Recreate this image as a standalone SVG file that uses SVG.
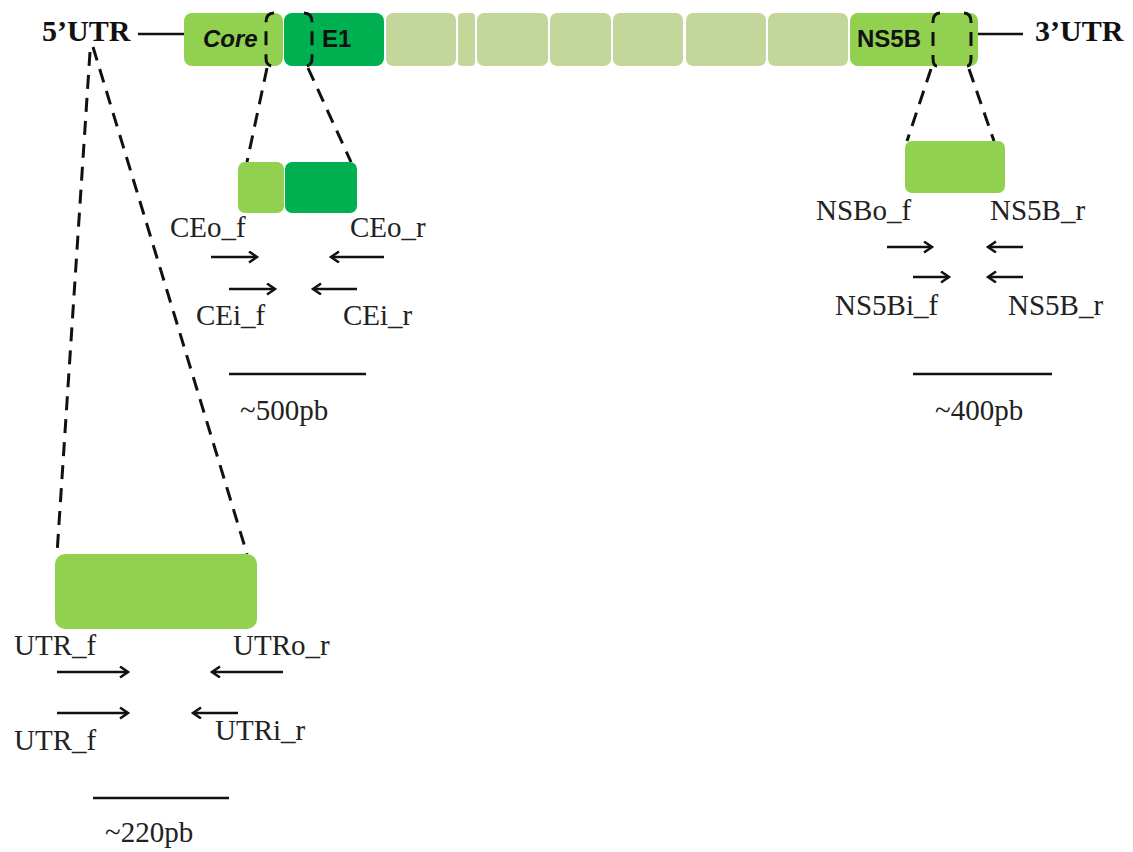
<svg xmlns="http://www.w3.org/2000/svg" width="1133" height="852" viewBox="0 0 1133 852">
  <style>
    .lbl { font-family: "Liberation Serif", "Times New Roman", serif; font-size: 29px; fill: #222; }
    .end { font-family: "Liberation Serif", "Times New Roman", serif; font-size: 30px; font-weight: bold; fill: #111; }
    .gene { font-family: "Liberation Sans", Arial, sans-serif; font-size: 24px; font-weight: bold; fill: #111; }
    .dash { fill: none; stroke: #111; stroke-width: 3; stroke-dasharray: 14 9; }
    .solid { stroke: #111; stroke-width: 2.5; }
    .primer { stroke: #111; stroke-width: 2.5; marker-end: url(#chev); }
    .lt { fill: #92D050; }
    .dk { fill: #00B050; }
    .pale { fill: #C4D79B; }
  </style>
  <defs>
    <marker id="chev" markerUnits="userSpaceOnUse" markerWidth="12" markerHeight="14" refX="9" refY="6" orient="auto">
      <path d="M1,0.5 L9,6 L1,11.5" fill="none" stroke="#111" stroke-width="2.5"/>
    </marker>
  </defs>

  <rect width="1133" height="852" fill="#fff"/>

  <!-- genome bar -->
  <g id="genome">
    <line class="solid" x1="138" y1="34" x2="184" y2="34"/>
    <line class="solid" x1="978" y1="34" x2="1023" y2="34"/>
    <rect class="lt" x="184" y="13" width="99" height="53" rx="8"/>
    <rect class="dk" x="284" y="13" width="100" height="53" rx="8"/>
    <rect class="pale" x="386" y="13" width="70" height="53" rx="7"/>
    <rect class="pale" x="458" y="13" width="17" height="53" rx="4"/>
    <rect class="pale" x="477" y="13" width="71" height="53" rx="7"/>
    <rect class="pale" x="550" y="13" width="61" height="53" rx="7"/>
    <rect class="pale" x="613" y="13" width="70" height="53" rx="7"/>
    <rect class="pale" x="686" y="13" width="80" height="53" rx="7"/>
    <rect class="pale" x="768" y="13" width="80" height="53" rx="7"/>
    <rect class="lt" x="850" y="13" width="128" height="53" rx="8"/>
    <text class="gene" x="203" y="47" font-style="italic" font-size="25">Core</text>
    <text class="gene" x="322" y="47">E1</text>
    <text class="gene" x="857" y="47">NS5B</text>
    <text class="end" x="42" y="41">5’UTR</text>
    <text class="end" x="1035" y="41">3’UTR</text>
  </g>

  <!-- zoom connectors -->
  <g id="connectors">
    <path class="dash" d="M274,13 Q266,13 266,22 L266,58 Q266,66 273,66"/>
    <path class="dash" d="M304,13 Q312,13 312,22 L312,58 Q312,66 305,66"/>
    <path class="dash" d="M940,13 Q933,13 933,22 L933,58 Q933,66 937,66"/>
    <path class="dash" d="M964,13 Q971,13 971,22 L971,58 Q971,66 967,66"/>
    <line class="dash" x1="267" y1="68" x2="247" y2="162"/>
    <line class="dash" x1="308" y1="68" x2="351" y2="162"/>
    <line class="dash" x1="931" y1="69" x2="907" y2="141"/>
    <line class="dash" x1="969" y1="69" x2="994" y2="141"/>
    <line class="dash" x1="90" y1="52" x2="57" y2="554"/>
    <line class="dash" x1="93" y1="47" x2="247" y2="554"/>
  </g>

  <!-- Core/E1 amplicon -->
  <g id="core-e1">
    <rect class="lt" x="238" y="162" width="46" height="51" rx="7"/>
    <rect class="dk" x="285" y="162" width="72" height="51" rx="7"/>
    <text class="lbl" x="170" y="237">CEo_f</text>
    <text class="lbl" x="350" y="237">CEo_r</text>
    <line class="primer" x1="211" y1="257" x2="257" y2="257"/>
    <line class="primer" x1="384" y1="257" x2="331" y2="257"/>
    <line class="primer" x1="229" y1="289" x2="275" y2="289"/>
    <line class="primer" x1="357" y1="289" x2="313" y2="289"/>
    <text class="lbl" x="196" y="325">CEi_f</text>
    <text class="lbl" x="343" y="325">CEi_r</text>
    <line class="solid" x1="229" y1="374" x2="366" y2="374"/>
    <text class="lbl" x="240" y="420">~500pb</text>
  </g>

  <!-- NS5B amplicon -->
  <g id="ns5b">
    <rect class="lt" x="905" y="141" width="100" height="52" rx="7"/>
    <text class="lbl" x="816" y="220">NSBo_f</text>
    <text class="lbl" x="990" y="220">NS5B_r</text>
    <line class="primer" x1="887" y1="247" x2="932" y2="247"/>
    <line class="primer" x1="1023" y1="247" x2="988" y2="247"/>
    <line class="primer" x1="913" y1="277" x2="949" y2="277"/>
    <line class="primer" x1="1023" y1="277" x2="988" y2="277"/>
    <text class="lbl" x="835" y="315">NS5Bi_f</text>
    <text class="lbl" x="1008" y="315">NS5B_r</text>
    <line class="solid" x1="913" y1="374" x2="1052" y2="374"/>
    <text class="lbl" x="935" y="420">~400pb</text>
  </g>

  <!-- 5'UTR amplicon -->
  <g id="utr">
    <rect class="lt" x="55" y="554" width="202" height="75" rx="10"/>
    <text class="lbl" x="14" y="655">UTR_f</text>
    <text class="lbl" x="233" y="655">UTRo_r</text>
    <line class="primer" x1="57" y1="672" x2="128" y2="672"/>
    <line class="primer" x1="283" y1="672" x2="212" y2="672"/>
    <line class="primer" x1="57" y1="713" x2="128" y2="713"/>
    <line class="primer" x1="238" y1="713" x2="193" y2="713"/>
    <text class="lbl" x="14" y="750">UTR_f</text>
    <text class="lbl" x="215" y="740">UTRi_r</text>
    <line class="solid" x1="93" y1="798" x2="229" y2="798"/>
    <text class="lbl" x="105" y="842">~220pb</text>
  </g>
</svg>
